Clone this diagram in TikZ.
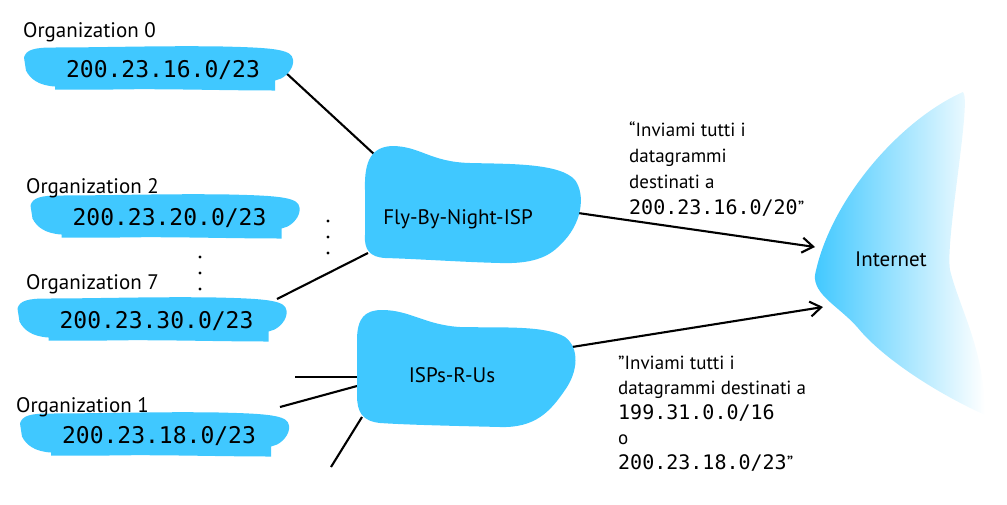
\documentclass[tikz,border=0pt]{standalone}
\usepackage{fontspec}
\setmainfont{PT Sans}
\newfontfamily\addrfont{DejaVu Sans Mono}
\usetikzlibrary{arrows.meta}
\definecolor{netblue}{HTML}{40C8FF}
\tikzset{
  orglab/.style={font=\fontsize{21}{25}\selectfont,inner sep=0pt},
  addr/.style={font=\addrfont\fontsize{23}{27}\selectfont,inner sep=0pt},
  ispname/.style={font=\fontsize{21}{25}\selectfont,inner sep=0pt},
  note/.style={font=\fontsize{19}{26}\selectfont,align=left,inner sep=0pt},
  link/.style={line width=2.1pt},
  route/.style={line width=2.1pt,-{Straight Barb[length=11pt,width=15pt]}},
}
\newcommand{\ip}[1]{{\addrfont\fontsize{20}{26}\selectfont #1}}
% brush-stroke blob with address and label above it
\newcommand{\orgnet}[7]{%
  \fill[netblue,shift={({#2},{#3-8.5})}] (-139,-11) .. controls (-137,-19) and (-128,-21) .. (-110,-21)
     .. controls (-60,-21) and (0,-23) .. (60,-22) .. controls (100,-21) and (125,-20) .. (129,-12)
     .. controls (133,-4) and (126,6) .. (118,10) -- (112,12) -- (112,22)
     .. controls (60,22) and (0,20) .. (-50,21) -- (-108,21) -- (-108,18)
     .. controls (-125,17) and (-133,10) .. (-137,2) -- cycle;
  \node[addr,anchor=base] (#1) at ({#2},{#3}) {#7};
  \node[orglab,anchor=base west] (#1lab) at ({#4},{#5}) {#6};
}

\begin{document}
\begin{tikzpicture}[x=1pt,y=-1pt]
\useasboundingbox (0,0) rectangle (1007,504);

% --- connector end points ---------------------------------------------
\coordinate (org0e) at (285,72);
\coordinate (fbnnw) at (375,155);
\coordinate (org7e) at (277,299);
\coordinate (fbnsw) at (368,253);
\coordinate (fbne) at (578,213);
\coordinate (ispe) at (572,347);
\coordinate (ispw) at (357,377);
\coordinate (ispwb) at (357,386);
\coordinate (ispsw) at (362,417);
\coordinate (stuba) at (295,377);
\coordinate (stubb) at (280,407);
\coordinate (stubc) at (331,467);
\coordinate (neta) at (815,247);
\coordinate (netb) at (823,307);

% --- links -------------------------------------------------------------
\draw[link] (org0e) -- (fbnnw);
\draw[link] (org7e) -- (fbnsw);
\draw[link] (stuba) -- (ispw);
\draw[link] (stubb) -- (ispwb);
\draw[link] (stubc) -- (ispsw);
\draw[route] (fbne) -- (neta);
\draw[route] (ispe) -- (netb);

% --- organizations -----------------------------------------------------
\orgnet{org0}{163}{77}{23}{37}{Organization 0}{200.23.16.0/23}
\orgnet{org2}{169.5}{225}{26}{193}{Organization 2}{200.23.20.0/23}
\orgnet{org7}{156.5}{328}{26}{289}{Organization 7}{200.23.30.0/23}
\orgnet{org1}{159}{443}{16}{412}{Organization 1}{200.23.18.0/23}

% --- dots --------------------------------------------------------------
\foreach \y in {257,273,289}{ \fill (200,\y) circle (1.7); }
\foreach \y in {221,237,253}{ \fill (328,\y) circle (1.7); }

% --- ISP clouds --------------------------------------------------------
\fill[netblue] (365,190) .. controls (364,160) and (372,147) .. (392,146)
   .. controls (420,146) and (430,162) .. (470,163) .. controls (510,164) and (560,163) .. (575,180)
   .. controls (586,195) and (582,225) .. (560,245) .. controls (548,258) and (530,264) .. (500,263)
   .. controls (460,262) and (420,259) .. (385,258) .. controls (370,257) and (364,250) .. (365,235) -- cycle;
\node[ispname,anchor=base] (fbn) at (458,224) {Fly-By-Night-ISP};

\fill[netblue] (357,340) .. controls (357,318) and (365,310) .. (382,310)
   .. controls (410,310) and (425,325) .. (460,327) .. controls (500,328) and (545,325) .. (565,337)
   .. controls (580,348) and (578,372) .. (565,390) .. controls (550,412) and (535,428) .. (500,427)
   .. controls (460,426) and (410,425) .. (380,423) .. controls (362,421) and (357,412) .. (357,395) -- cycle;
\node[ispname,anchor=base] (isp) at (452,382) {ISPs-R-Us};

% --- Internet ----------------------------------------------------------
\shade[left color=netblue,middle color=netblue!38,right color=white] (963,92) .. controls (900,120) and (830,200) .. (815,275)
   .. controls (813,295) and (840,307) .. (858,328) .. controls (880,355) and (930,390) .. (985,415)
   .. controls (985,350) and (960,310) .. (950,270) .. controls (945,240) and (972,100) .. (963,92) -- cycle;
\node[ispname,anchor=base] (net) at (891,266) {Internet};

% --- advertisements ----------------------------------------------------
\node[note,anchor=north west] (adfbn) at (629,122)
  {“Inviami tutti i\\datagrammi\\destinati a\\\ip{200.23.16.0/20}”};
\node[note,anchor=north west,font=\fontsize{19}{25}\selectfont] (adisp) at (618,356)
  {"Inviami tutti i\\datagrammi destinati a\\\ip{199.31.0.0/16}\\o\\\ip{200.23.18.0/23}"};

\end{tikzpicture}
\end{document}
